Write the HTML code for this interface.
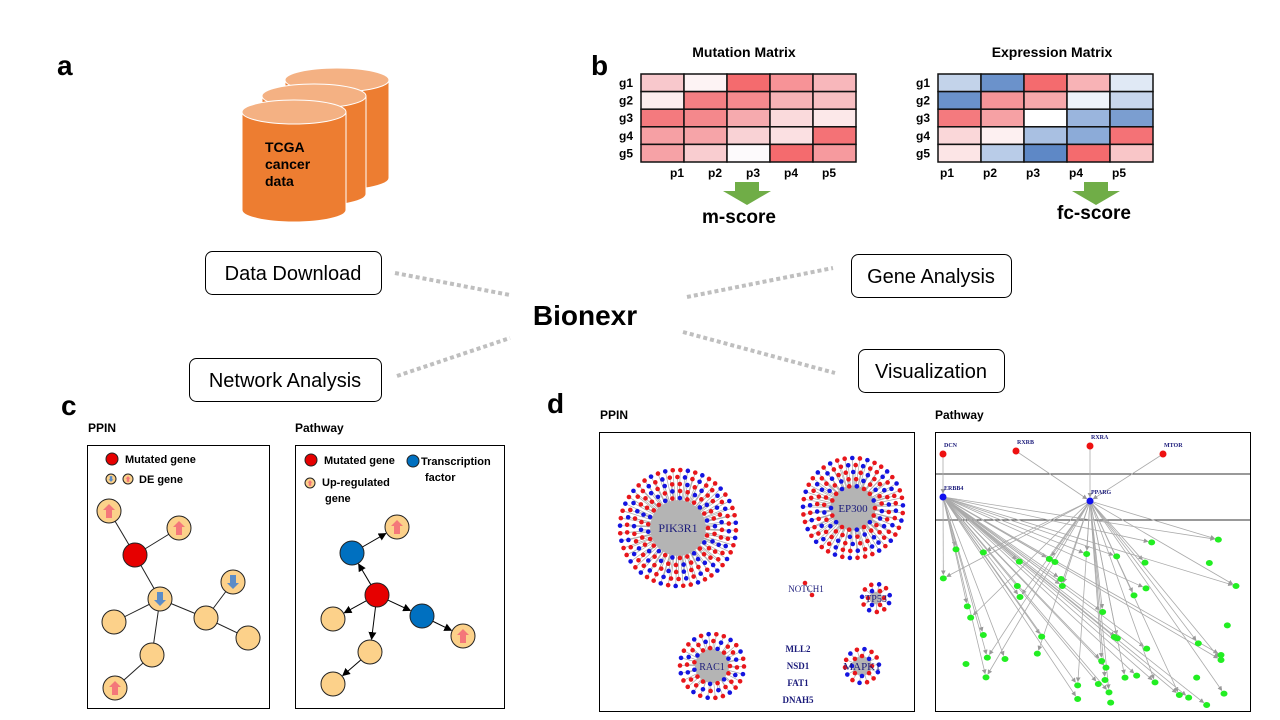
<!DOCTYPE html>
<html><head><meta charset="utf-8">
<style>
html,body{margin:0;padding:0;background:#fff;}
svg{display:block;font-family:"Liberation Sans",sans-serif;}
.b{font-weight:bold;}
</style></head>
<body>
<svg id="s" width="1280" height="720" viewBox="0 0 1280 720" xmlns="http://www.w3.org/2000/svg">
<defs>
<marker id="ah" markerWidth="8" markerHeight="8" refX="7" refY="4" orient="auto"><path d="M0,0 L8,4 L0,8 z" fill="#000"/></marker>
<marker id="ag" markerWidth="6" markerHeight="6" refX="5" refY="3" orient="auto"><path d="M0,0 L6,3 L0,6 z" fill="#999"/></marker>
</defs>
<text x="57" y="75" font-size="28" class="b">a</text>
<text x="591" y="75" font-size="28" class="b">b</text>
<text x="61" y="415" font-size="28" class="b">c</text>
<text x="547" y="413" font-size="28" class="b">d</text>

<g id="cyl"></g>
<text x="265" y="152" font-size="14" class="b"><tspan x="265">TCGA</tspan><tspan x="265" dy="17">cancer</tspan><tspan x="265" dy="17">data</tspan></text>

<g id="mats"></g>

<g><rect x="205.5" y="251.5" width="176" height="43" rx="7" fill="#fff" stroke="#000"/><text x="293" y="280" font-size="20" text-anchor="middle">Data Download</text></g>
<g><rect x="851.5" y="254.5" width="160" height="43" rx="7" fill="#fff" stroke="#000"/><text x="931" y="283" font-size="20" text-anchor="middle">Gene Analysis</text></g>
<g><rect x="189.5" y="358.5" width="192" height="43" rx="7" fill="#fff" stroke="#000"/><text x="285" y="387" font-size="20" text-anchor="middle">Network Analysis</text></g>
<g><rect x="858.5" y="349.5" width="146" height="43" rx="7" fill="#fff" stroke="#000"/><text x="931" y="378" font-size="20" text-anchor="middle">Visualization</text></g>
<text x="585" y="325" font-size="28" class="b" text-anchor="middle">Bionexr</text>
<g stroke="#bfbfbf" stroke-width="4" stroke-dasharray="4,3">
<line x1="395" y1="273" x2="510" y2="295"/><line x1="687" y1="297" x2="833" y2="268"/>
<line x1="397" y1="376" x2="510" y2="338"/><line x1="683" y1="332" x2="835" y2="373"/>
</g>

<text x="88" y="432" font-size="12" class="b">PPIN</text>
<text x="295" y="432" font-size="12" class="b">Pathway</text>
<rect x="87.5" y="445.5" width="182" height="263" fill="none" stroke="#000"/>
<rect x="295.5" y="445.5" width="209" height="263" fill="none" stroke="#000"/>
<g id="pc"></g>

<text x="600" y="419" font-size="12" class="b">PPIN</text>
<text x="935" y="419" font-size="12" class="b">Pathway</text>
<rect x="599.5" y="432.5" width="315" height="279" fill="#fff" stroke="#000"/>
<rect x="935.5" y="432.5" width="315" height="279" fill="#fff" stroke="#000"/>
<line x1="936" y1="474" x2="1250" y2="474" stroke="#333"/>
<line x1="936" y1="520" x2="1250" y2="520" stroke="#333"/>
<g id="pd"></g>
</svg>
<script>
const NS="http://www.w3.org/2000/svg";
function mk(p,t,a,txt){const e=document.createElementNS(NS,t);for(const k in a)e.setAttribute(k,a[k]);if(txt!==undefined)e.textContent=txt;p.appendChild(e);return e;}

const mutRows=["g1","g2","g3","g4","g5"];
const mutCols=["p1","p2","p3","p4","p5"];
const mutColors=[
["#F8C8CC","#FDF3F4","#F46B6E","#F79397","#F8B7BB"],
["#FCEDEE","#F47F83","#F58A8E","#F7B3B6","#F8BFC2"],
["#F47A7E","#F4888C","#F6AAAE","#FADADC","#FCE8E9"],
["#F6A0A4","#F6A4A8","#F9D2D5","#FBE0E2","#F47276"],
["#F6A2A6","#F9CDD0","#FDFAFC","#F46B6E","#F69A9E"]];
const expColors=[
["#C3D3EA","#6B92CB","#F46B6E","#F8B3B6","#E0E9F5"],
["#6B92CB","#F59598","#F7A8AB","#EEF3FA","#C8D6EC"],
["#F47A7E","#F6A1A4","#FFFFFF","#9AB5DD","#7B9ED0"],
["#FAD7D9","#FDF0F1","#A9C0E2","#8CABD8","#F47276"],
["#FCE5E6","#B9CCE8","#5E88C6","#F46B6E","#F9C6C8"]];

const cyl=document.getElementById('cyl');
[[285,80],[262,96],[242,112]].forEach(([x,y],i)=>{
  const w=104,h=98,ry=12;
  const g=mk(cyl,'g',{});
  
  
  mk(g,'path',{d:`M${x},${y} L${x},${y+h} A${w/2},${ry} 0 0 0 ${x+w},${y+h} L${x+w},${y} z`,fill:'#ED7D31',stroke:'#fff','stroke-width':1});
  mk(g,'ellipse',{cx:x+w/2,cy:y,rx:w/2,ry:ry,fill:'#F4B183',stroke:'#fff','stroke-width':1});
});

const mats=document.getElementById('mats');
function matrix(x0,y0,colors,title,tx,score,sx,sy,ax,lx,lstep){
  const cw=43,ch=17.6;
  mk(mats,'text',{x:tx,y:57,'font-size':14,'font-weight':'bold','text-anchor':'middle'},title);
  colors.forEach((row,r)=>row.forEach((c,k)=>{
    const e=mk(mats,'rect',{x:x0+k*cw,y:y0+r*ch,width:cw,height:ch,fill:c,stroke:'#111','stroke-width':1.5});
    
    
  }));
  mutRows.forEach((g,r)=>mk(mats,'text',{x:x0-22,y:y0+r*ch+13,'font-size':12,'font-weight':'bold'},g));
  mutCols.forEach((p,k)=>mk(mats,'text',{x:lx+k*lstep,y:177,'font-size':12,'font-weight':'bold'},p));
  mk(mats,'path',{d:`M${ax-12},182 h24 v9 h12 l-24,14 l-24,-14 h12 z`,fill:'#70AD47'});
  mk(mats,'text',{x:sx,y:sy,'font-size':19,'font-weight':'bold','text-anchor':'middle'},score);
}
matrix(641,74,mutColors,"Mutation Matrix",744,"m-score",739,223,747,670,38);
matrix(938,74,expColors,"Expression Matrix",1052,"fc-score",1094,219,1096,940,43);

const pc=document.getElementById('pc');
function node(p,x,y,r,fill,arrow){
  const g=mk(p,'g',{});
  
  
  mk(g,'circle',{cx:x,cy:y,r:r,fill:fill,stroke:'#222','stroke-width':1});
  if(arrow){const s=r/12;const c=arrow=='up'?'#F4777A':'#5B8CC8';
    const d=arrow=='up'?`M${x},${y-7*s} l${6*s},${6*s} h${-3*s} v${8*s} h${-6*s} v${-8*s} h${-3*s} z`:`M${x},${y+7*s} l${6*s},${-6*s} h${-3*s} v${-8*s} h${-6*s} v${8*s} h${-3*s} z`;
    mk(g,'path',{d:d,fill:c});}
}
const ppinN={red:[135,555],u1:[109,511],u2:[179,528],c:[160,599],d:[233,582],p1:[114,622],p2:[206,618],p3:[248,638],p4:[152,655],u3:[115,688]};
[["red","u1"],["red","u2"],["red","c"],["c","p1"],["c","p2"],["c","p4"],["p2","d"],["p2","p3"],["p4","u3"]].forEach(([a,b])=>mk(pc,'line',{x1:ppinN[a][0],y1:ppinN[a][1],x2:ppinN[b][0],y2:ppinN[b][1],stroke:'#222'}));
node(pc,...ppinN.red,12,'#E60000');
node(pc,...ppinN.u1,12,'#FCD18A','up');node(pc,...ppinN.u2,12,'#FCD18A','up');
node(pc,...ppinN.c,12,'#FCD18A','down');node(pc,...ppinN.d,12,'#FCD18A','down');
["p1","p2","p3","p4"].forEach(k=>node(pc,...ppinN[k],12,'#FCD18A'));
node(pc,...ppinN.u3,12,'#FCD18A','up');
node(pc,112,459,6,'#E60000');mk(pc,'text',{x:125,y:463,'font-size':11,'font-weight':'bold'},'Mutated gene');
node(pc,111,479,5,'#FCD18A','down');node(pc,128,479,5,'#FCD18A','up');mk(pc,'text',{x:139,y:483,'font-size':11,'font-weight':'bold'},'DE gene');

const pwN={red:[377,595],b1:[352,553],b2:[422,616],u1:[397,527],u2:[463,636],p1:[333,619],p2:[370,652],p3:[333,684]};
function arr(a,b,r){const [x1,y1]=pwN[a],[x2,y2]=pwN[b];const dx=x2-x1,dy=y2-y1,L=Math.hypot(dx,dy);
  mk(pc,'line',{x1:x1+dx/L*r,y1:y1+dy/L*r,x2:x2-dx/L*(r+1),y2:y2-dy/L*(r+1),stroke:'#000','marker-end':'url(#ah)'});}
[["red","b1"],["red","b2"],["red","p1"],["red","p2"],["b1","u1"],["b2","u2"],["p2","p3"]].forEach(([a,b])=>arr(a,b,12));
node(pc,...pwN.red,12,'#E60000');node(pc,...pwN.b1,12,'#0070C0');node(pc,...pwN.b2,12,'#0070C0');
node(pc,...pwN.u1,12,'#FCD18A','up');node(pc,...pwN.u2,12,'#FCD18A','up');
["p1","p2","p3"].forEach(k=>node(pc,...pwN[k],12,'#FCD18A'));
node(pc,311,460,6,'#E60000');mk(pc,'text',{x:324,y:464,'font-size':11,'font-weight':'bold'},'Mutated gene');
node(pc,413,461,6,'#0070C0');mk(pc,'text',{x:421,y:465,'font-size':11,'font-weight':'bold'},'Transcription');
mk(pc,'text',{x:425,y:481,'font-size':11,'font-weight':'bold'},'factor');
node(pc,310,483,5,'#FCD18A','up');mk(pc,'text',{x:322,y:486,'font-size':11,'font-weight':'bold'},'Up-regulated');
mk(pc,'text',{x:325,y:502,'font-size':11,'font-weight':'bold'},'gene');

const pd=document.getElementById('pd');
function cluster(cx,cy,R,label,r0,step,lfs){
  const pts=[];let ring=0;
  for(let r=r0;r<=R;r+=step,ring++){const n=Math.max(3,Math.floor(2*Math.PI*r/7.5));
    for(let i=0;i<n;i++){const a=i/n*2*Math.PI+ring*0.37;pts.push([cx+r*Math.cos(a),cy+r*Math.sin(a),(i*7+ring*3)%5<3]);}}
  pts.forEach(p=>mk(pd,'line',{x1:cx,y1:cy,x2:p[0],y2:p[1],stroke:'#aaa','stroke-width':0.7}));
  mk(pd,'circle',{cx:cx,cy:cy,r:R*0.45,fill:'#b4b4b4'});
  pts.forEach(p=>{const c=mk(pd,'circle',{cx:p[0],cy:p[1],r:2.3,fill:p[2]?'#E8161B':'#1414E0'});
    
    });
  mk(pd,'text',{x:cx,y:cy+4,'font-size':lfs,'text-anchor':'middle',fill:'#1a1a7a','font-family':'Liberation Serif, serif'},label);
}
cluster(678,528,62,"PIK3R1",30,7,12);
cluster(853,508,50,"EP300",22,7,11);
cluster(876,598,14,"TP53",8,6,10);
cluster(712,666,38,"RAC1",18,7,10);
cluster(862,666,22,"MAPK1",10,7,11);
mk(pd,'line',{x1:805,y1:583,x2:812,y2:595,stroke:'#aaa'});
mk(pd,'circle',{cx:805,cy:583,r:2.3,fill:'#E8161B'});mk(pd,'circle',{cx:812,cy:595,r:2.3,fill:'#E8161B'});
mk(pd,'text',{x:806,y:592,'font-size':9,'text-anchor':'middle',fill:'#1a1a7a','font-family':'Liberation Serif, serif'},'NOTCH1');
[["MLL2",652],["NSD1",669],["FAT1",686],["DNAH5",703]].forEach(([t,y])=>mk(pd,'text',{x:798,y:y,'font-size':9,'font-weight':'bold','text-anchor':'middle',fill:'#1a1a7a','font-family':'Liberation Serif, serif'},t));

const reds=[["DCN",943,454],["RXRB",1016,451],["RXRA",1090,446],["MTOR",1163,454]];
const erbb4=[943,497],pparg=[1090,501];
const greenZ=[[40,460],[78,373],[160,382],[268,410],[358,402],[375,411],[470,387],[560,394],[645,413],[665,352],[865,344],[838,414],[918,483],[648,490],[612,511],[393,462],[397,483],[262,483],[270,516],[112,544],[122,578],[160,630],[172,698],[108,717],[168,757],[225,702],[322,686],[335,635],[518,561],[553,636],[562,640],[650,671],[805,655],[873,690],[873,705],[892,601],[515,708],[528,728],[525,765],[505,777],[537,802],[542,833],[443,781],[443,822],[585,758],[620,752],[675,772],[800,758],[748,810],[776,818],[882,806],[830,840]];
function garr(a,b){const dx=b[0]-a[0],dy=b[1]-a[1],L=Math.hypot(dx,dy);
  mk(pd,'line',{x1:a[0],y1:a[1],x2:b[0]-dx/L*4,y2:b[1]-dy/L*4,stroke:'#aaa','stroke-width':0.8,'marker-end':'url(#ag)'});}
garr([943,454],erbb4);
reds.slice(1).forEach(r=>garr([r[1],r[2]],pparg));
const greens=greenZ.map(p=>[930+p[0]/3,425+p[1]/3]);
greens.forEach((g,i)=>{if(i%3!=2)garr(erbb4,g);if(i%2==0)garr(pparg,g);});
greens.forEach(g=>{const c=mk(pd,'ellipse',{cx:g[0],cy:g[1],rx:3.5,ry:3,fill:'#22EE22'});
  
  });
reds.forEach(([n,x,y])=>{mk(pd,'circle',{cx:x,cy:y,r:3.5,fill:'#EE1111'});
  mk(pd,'text',{x:x+1,y:y-7,'font-size':6,'font-weight':'bold',fill:'#1a1a7a','font-family':'Liberation Serif, serif'},n);});
[["ERBB4",erbb4],["PPARG",pparg]].forEach(([n,p])=>{mk(pd,'circle',{cx:p[0],cy:p[1],r:3.5,fill:'#1111EE'});
  mk(pd,'text',{x:p[0]+1,y:p[1]-7,'font-size':6,'font-weight':'bold',fill:'#1a1a7a','font-family':'Liberation Serif, serif'},n);});
</script>
</body></html>
